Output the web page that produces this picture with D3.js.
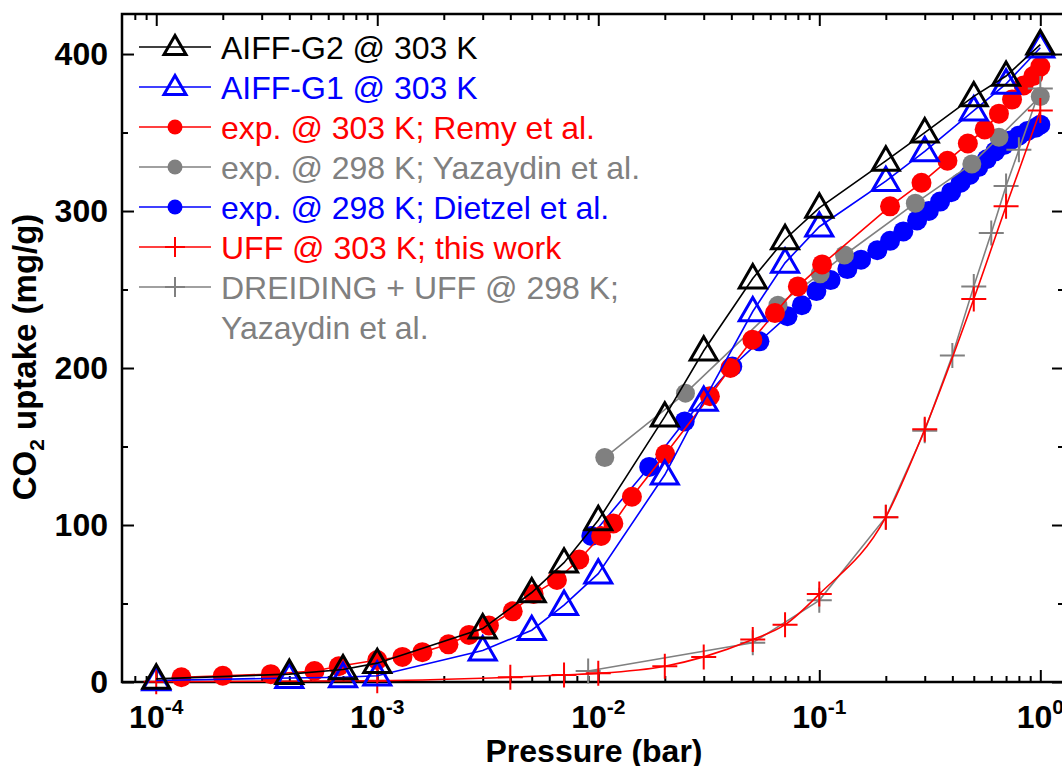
<!DOCTYPE html>
<html>
<head>
<meta charset="utf-8">
<script src="https://cdn.jsdelivr.net/npm/d3@7"></script>
<style>
  html, body { margin: 0; padding: 0; background: #fff; }
  svg { display: block; font-family: "Liberation Sans", Arial, sans-serif; }
</style>
</head>
<body>
<div id="chart"></div>
<script>
// --- data (pressure in bar, uptake in mg/g) ---
// AIFF-G2 @ 303 K
const g2P = [1e-4, 4e-4, 7e-4, 1e-3, 3e-3, 5e-3, 7e-3, 0.01, 0.02, 0.03, 0.05, 0.07, 0.1, 0.2, 0.3, 0.5, 0.7, 1.0];
const g2Q = [2, 5, 8, 12, 34, 57, 76, 103, 169, 211, 257, 282, 302, 332, 350, 373, 386, 406];
// AIFF-G1 @ 303 K
const g1P = [1e-4, 4e-4, 7e-4, 1e-3, 3e-3, 5e-3, 7e-3, 0.01, 0.02, 0.03, 0.05, 0.07, 0.1, 0.2, 0.3, 0.5, 0.7, 1.0];
const g1Q = [1, 2.5, 3, 4, 20, 33, 49, 69, 132, 179, 236, 267, 290, 319, 338, 364, 381, 404];
// exp. @ 303 K; Remy et al.
const remyP = [1.3e-4, 2e-4, 3.3e-4, 5.2e-4, 6.7e-4, 1e-3, 1.3e-3, 1.6e-3, 2.1e-3, 2.6e-3, 3.2e-3, 4.1e-3, 5.1e-3,
  6.5e-3, 8.2e-3, 0.0103, 0.0117, 0.0142, 0.0201, 0.032, 0.0396, 0.0498, 0.063, 0.08, 0.103, 0.209, 0.29,
  0.38, 0.47, 0.56, 0.65, 0.745, 0.84, 0.93, 1.0];
const remyQ = [3, 4, 5, 7, 10, 14, 16, 19, 24, 30, 36, 45, 56, 65, 78, 93, 101, 118, 145, 182, 200, 218, 235,
  252, 266, 303, 318, 332, 343, 352, 362, 371, 380, 386, 392];
// exp. @ 298 K; Yazaydin et al.
const yazP = [0.0107, 0.0248, 0.065, 0.101, 0.13, 0.272, 0.49, 0.65, 1.0];
const yazQ = [143, 184, 240, 260, 272, 305, 330, 347, 373];
// exp. @ 298 K; Dietzel et al.
const dietP = [0.0093, 0.017, 0.0246, 0.0404, 0.0536, 0.0718, 0.0834, 0.097, 0.1125, 0.134, 0.1545, 0.183,
  0.209, 0.24, 0.277, 0.313, 0.352, 0.395, 0.436, 0.479, 0.524, 0.572, 0.625, 0.683, 0.733, 0.8, 0.875, 0.95, 1.0];
const dietQ = [93, 137, 166, 201, 217, 233, 240, 249, 256, 263, 269, 275, 281, 287, 294, 300, 306, 312, 318,
  323, 328, 333, 338, 342, 345, 348, 351, 353, 355];
// UFF @ 303 K; this work
const uffP = [1e-4, 1e-3, 4e-3, 7e-3, 0.01, 0.02, 0.03, 0.05, 0.07, 0.1, 0.2, 0.3, 0.5, 0.7, 1.0];
const uffQ = [0.2, 0.8, 3, 4.5, 5.5, 10, 16, 27, 36.5, 56, 105, 161, 244, 303, 364];
// DREIDING + UFF @ 298 K; Yazaydin et al.
const dreP = [0.009, 0.05, 0.1, 0.2, 0.3, 0.4, 0.5, 0.6, 0.7, 0.8, 1.0];
const dreQ = [7, 25, 52, 105, 160, 208, 252, 286, 316, 339, 378];

// axis ticks
const xMajor = [1e-4, 1e-3, 1e-2, 1e-1, 1];
const xMajorExp = ["-4", "-3", "-2", "-1", "0"];
const yMajor = [0, 100, 200, 300, 400];
const yMinor = [50, 150, 250, 350];

(() => {
  const W = 1062, H = 766;
  const pl = 122, pr = 1064, pt = 14, pb = 682; // plot box
  const FONT = "'Liberation Sans', Arial, sans-serif";

  const x = d3.scaleLog().domain([7e-5, 1.28]).range([pl, pr]);
  const y = d3.scaleLinear().domain([0, 425.5]).range([pb, pt]);

  const xMinor = [];
  for (let e = -5; e <= 0; e++) {
    for (let m = 2; m <= 9; m++) {
      const v = m * Math.pow(10, e);
      if (v > 7.01e-5 && v < 1.28) xMinor.push(v);
    }
  }

  const svg = d3.select("#chart").append("svg").attr("width", W).attr("height", H);

  // === frame
  svg.append("rect")
    .attr("x", pl).attr("y", pt)
    .attr("width", pr - pl).attr("height", pb - pt)
    .attr("fill", "none").attr("stroke", "#000").attr("stroke-width", 2.5);

  // === ticks (inward on all four sides)
  function tickAxis(axisFn, scale, values, size, transform) {
    const g = svg.append("g").attr("transform", transform)
      .call(axisFn(scale).tickValues(values).tickSize(-size).tickSizeOuter(0).tickFormat(""));
    g.select(".domain").remove();
    g.selectAll(".tick line").attr("stroke", "#000").attr("stroke-width", 2);
    g.selectAll(".tick text").remove();
    return g;
  }
  tickAxis(d3.axisBottom, x, xMajor, 12, `translate(0,${pb})`);
  tickAxis(d3.axisBottom, x, xMinor, 6, `translate(0,${pb})`);
  tickAxis(d3.axisTop, x, xMajor, 12, `translate(0,${pt})`);
  tickAxis(d3.axisTop, x, xMinor, 6, `translate(0,${pt})`);
  tickAxis(d3.axisRight, y, yMajor, 12, `translate(${pr},0)`);
  tickAxis(d3.axisRight, y, yMinor, 6, `translate(${pr},0)`);
  tickAxis(d3.axisLeft, y, yMinor, 6, `translate(${pl},0)`);

  // left axis with labels
  const yAx = svg.append("g").attr("transform", `translate(${pl},0)`)
    .call(d3.axisLeft(y).tickValues(yMajor).tickSize(-12).tickSizeOuter(0).tickPadding(14).tickFormat(d3.format("d")));
  yAx.select(".domain").remove();
  yAx.selectAll(".tick line").attr("stroke", "#000").attr("stroke-width", 2);
  yAx.selectAll(".tick text")
    .attr("fill", "#000").attr("font-family", FONT).attr("font-size", 32).attr("font-weight", "bold");

  // x labels: 10 with superscript exponent
  const xl = svg.append("g");
  xMajor.forEach((v, i) => {
    const t = xl.append("text")
      .attr("x", x(v)).attr("y", 728)
      .attr("text-anchor", "middle")
      .attr("font-family", FONT).attr("font-weight", "bold").attr("font-size", 32);
    t.append("tspan").text("10");
    t.append("tspan").attr("font-size", 21).attr("dy", -14).text(xMajorExp[i]);
  });

  // axis titles
  svg.append("text")
    .attr("x", 594).attr("y", 762)
    .attr("text-anchor", "middle")
    .attr("font-family", FONT).attr("font-weight", "bold").attr("font-size", 32)
    .text("Pressure (bar)");

  const yt = svg.append("text")
    .attr("transform", "translate(36,357) rotate(-90)")
    .attr("text-anchor", "middle")
    .attr("font-family", FONT).attr("font-weight", "bold").attr("font-size", 33);
  yt.append("tspan").text("CO");
  yt.append("tspan").attr("font-size", 21).attr("dy", 8).text("2");
  yt.append("tspan").attr("dy", -8).text(" uptake (mg/g)");

  // === markers
  function markerPath(type, s) {
    if (type === "tri") {
      const h = s * 0.866;
      return `M0,${-h * 0.6}L${s / 2},${h * 0.4}L${-s / 2},${h * 0.4}Z`;
    }
    return `M${-s / 2},0H${s / 2}M0,${-s / 2}V${s / 2}`;
  }

  function drawMarker(g, type, color, cx, cy, size) {
    if (type === "dot") {
      g.append("circle").attr("cx", cx).attr("cy", cy).attr("r", size / 2).attr("fill", color);
    } else if (type === "tri") {
      g.append("path").attr("d", markerPath("tri", size)).attr("transform", `translate(${cx},${cy})`)
        .attr("fill", "none").attr("stroke", color).attr("stroke-width", 3).attr("stroke-linejoin", "miter");
    } else {
      g.append("path").attr("d", markerPath("plus", size)).attr("transform", `translate(${cx},${cy})`)
        .attr("fill", "none").attr("stroke", color).attr("stroke-width", 2);
    }
  }

  const series = [
    { key: "diet", P: dietP, Q: dietQ, color: "#0000ff", marker: "dot", size: 20 },
    { key: "yaz", P: yazP, Q: yazQ, color: "#808080", marker: "dot", size: 19 },
    { key: "remy", P: remyP, Q: remyQ, color: "#ff0000", marker: "dot", size: 20 },
    { key: "dre", P: dreP, Q: dreQ, color: "#808080", marker: "plus", size: 25 },
    { key: "uff", P: uffP, Q: uffQ, color: "#ff0000", marker: "plus", size: 25, curve: d3.curveMonotoneX },
    { key: "g1", P: g1P, Q: g1Q, color: "#0000ff", marker: "tri", size: 27 },
    { key: "g2", P: g2P, Q: g2Q, color: "#000000", marker: "tri", size: 27 },
  ];

  series.forEach(s => {
    const pts = s.P.map((p, i) => ({ p, q: s.Q[i] }));
    const line = d3.line().x(d => x(d.p)).y(d => y(d.q)).curve(s.curve || d3.curveLinear);
    const g = svg.append("g").attr("class", s.key);
    g.append("path").datum(pts).attr("d", line)
      .attr("fill", "none").attr("stroke", s.color).attr("stroke-width", 1.6);
    pts.forEach(d => drawMarker(g, s.marker, s.color, x(d.p), y(d.q), s.size));
  });

  // === legend
  const legendItems = [
    { label: ["AIFF-G2 @ 303 K"], color: "#000000", marker: "tri", size: 22 },
    { label: ["AIFF-G1 @ 303 K"], color: "#0000ff", marker: "tri", size: 22 },
    { label: ["exp. @ 303 K; Remy et al."], color: "#ff0000", marker: "dot", size: 15 },
    { label: ["exp. @ 298 K; Yazaydin et al."], color: "#808080", marker: "dot", size: 15 },
    { label: ["exp. @ 298 K; Dietzel et al."], color: "#0000ff", marker: "dot", size: 15 },
    { label: ["UFF @ 303 K; this work"], color: "#ff0000", marker: "plus", size: 20 },
    { label: ["DREIDING + UFF @ 298 K;", "Yazaydin et al."], color: "#808080", marker: "plus", size: 20 },
  ];
  const lg = svg.append("g");
  legendItems.forEach((it, i) => {
    const cy = 47 + i * 40;
    lg.append("line").attr("x1", 139).attr("x2", 211).attr("y1", cy).attr("y2", cy)
      .attr("stroke", it.color).attr("stroke-width", 1.6);
    drawMarker(lg, it.marker, it.color, 175, cy, it.size);
    it.label.forEach((ln, j) => {
      lg.append("text").attr("x", 221).attr("y", cy + 12 + j * 40)
        .attr("font-family", FONT).attr("font-size", 32).attr("fill", it.color).text(ln);
    });
  });
})();
</script>
</body>
</html>
